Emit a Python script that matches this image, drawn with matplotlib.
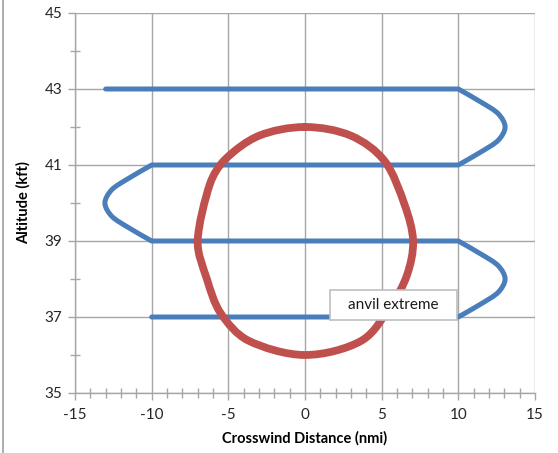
import matplotlib
matplotlib.use("Agg")
import numpy as np
import matplotlib.pyplot as plt
from matplotlib.patches import Rectangle, PathPatch
from matplotlib.path import Path
from matplotlib.lines import Line2D
from matplotlib.ticker import MultipleLocator

# Flight track (serpentine holding pattern), crosswind distance (nmi) vs altitude (kft)
track_x = [-13, 10, 11.5, 12.6, 13.05, 12.6, 11.5, 10,
           -10, -11.5, -12.6, -13.05, -12.6, -11.5, -10,
           10, 11.5, 12.6, 13.05, 12.6, 11.5, 10, -10]
track_y = [43, 43, 42.65, 42.35, 42.0, 41.65, 41.35, 41,
           41, 40.65, 40.35, 40.0, 39.65, 39.35, 39,
           39, 38.65, 38.35, 38.0, 37.65, 37.35, 37, 37]

# Anvil extreme outline (closed)
anvil_x = [0, 3.0, 5.2, 6.5, 7.05, 6.65, 5.6, 3.7, 0,
           -3.7, -5.5, -6.4, -7.0, -6.2, -5.2, -3.0, 0]
anvil_y = [42.0, 41.77, 41.1, 39.95, 39.0, 38.1, 37.3, 36.38, 36.0,
           36.38, 37.1, 38.0, 39.0, 40.5, 41.15, 41.77, 42.0]

x_ticks = [-15, -10, -5, 0, 5, 10, 15]
y_ticks = [35, 37, 39, 41, 43, 45]

plt.rcParams['font.family'] = ['Lato', 'DejaVu Sans']
plt.rcParams['axes.unicode_minus'] = False


def smooth_path(xs, ys, aspect, closed=False, corner_ratio=5.0):
    """Smoothed (Catmull-Rom style) line through the points as Bezier segments.

    Where a point joins a much longer chord to a short one it is kept as a
    corner, so long straight runs stay straight.
    """
    pts = np.column_stack([xs, ys]).astype(float)
    if closed and np.allclose(pts[0], pts[-1]):
        pts = pts[:-1]
    n = len(pts)
    scaled = pts * np.array([1.0, aspect])
    nseg = n if closed else n - 1
    chord = [scaled[(i + 1) % n] - scaled[i] for i in range(nseg)]
    seg_len = np.array([np.hypot(*c) for c in chord])

    def neighbours(i):
        if closed:
            return (i - 1) % n, i % nseg
        return (i - 1 if i > 0 else None), (i if i < nseg else None)

    def handle(i, seg):
        """Control-point offset at point i, pointing along segment seg."""
        before, after = neighbours(i)
        if before is None or after is None:
            return chord[seg] / 3.0 if seg == after else -chord[seg] / 3.0
        la, lb = seg_len[before], seg_len[after]
        sign = 1.0 if seg == after else -1.0
        if max(la, lb) / min(la, lb) > corner_ratio:
            return sign * chord[seg] / 3.0
        t = (chord[before] + chord[after]) / 6.0
        mag = np.hypot(*t)
        cap = seg_len[seg] / 3.0
        if mag > cap:
            t = t * (cap / mag)
        return sign * t

    verts = [scaled[0]]
    codes = [Path.MOVETO]
    for i in range(nseg):
        j = (i + 1) % n
        a, b = scaled[i], scaled[j]
        verts += [a + handle(i, i), b + handle(j, i), b]
        codes += [Path.CURVE4] * 3
    verts = np.array(verts) / np.array([1.0, aspect])
    return Path(verts, codes)


fig = plt.figure(figsize=(5.58, 4.53), dpi=100)
ax = fig.add_axes([75 / 558, 60 / 453, 460 / 558, 380 / 453])

grid_col = '#a6a6a6'
ax.set_xlim(-15, 15)
ax.set_ylim(35, 45)
ax.set_xticks(x_ticks)
ax.set_yticks(y_ticks)
ax.xaxis.set_minor_locator(MultipleLocator(1))
ax.yaxis.set_minor_locator(MultipleLocator(1))
ax.grid(True, which='major', color=grid_col, linewidth=1.0)
ax.set_axisbelow(True)

for side in ['top', 'right']:
    ax.spines[side].set_visible(False)
for side in ['left', 'bottom']:
    ax.spines[side].set_color(grid_col)
    ax.spines[side].set_linewidth(1.0)

ax.tick_params(which='major', direction='out', length=5, width=1.0,
               color=grid_col, labelsize=11, labelcolor='#262626', pad=4)
ax.tick_params(axis='x', which='major', pad=6)
ax.tick_params(which='minor', direction='inout', length=7, width=1.0,
               color=grid_col)

# vertical pixels per unit over horizontal pixels per unit
aspect = (380 / 10) / (460 / 30)

track = PathPatch(smooth_path(track_x, track_y, aspect), facecolor='none',
                  edgecolor='#4a7ebb', linewidth=3.6, capstyle='round',
                  joinstyle='round', zorder=3)
ax.add_patch(track)
anvil = PathPatch(smooth_path(anvil_x, anvil_y, aspect, closed=True),
                  facecolor='none', edgecolor='#c0504d', linewidth=5.6,
                  capstyle='round', joinstyle='round', zorder=4)
ax.add_patch(anvil)

# Label box
box = Rectangle((1.63, 36.92), 8.26, 0.79, facecolor='white',
                edgecolor='#bfbfbf', linewidth=1.2, zorder=6)
ax.add_patch(box)
ax.text(1.63 + 8.26 / 2, 36.92 + 0.79 / 2, 'anvil extreme', ha='center',
        va='center', fontsize=11, color='#1a1a1a', zorder=7)

ax.set_xlabel('Crosswind Distance (nmi)', fontsize=10.5, fontweight='bold',
              labelpad=6)
ax.set_ylabel('Altitude (kft)', fontsize=10.5, fontweight='bold', labelpad=10)

# Chart-area frame edge at the left
fig.add_artist(Line2D([2.5 / 558, 2.5 / 558], [0, 1], color='#a0a0a0',
                      linewidth=1.2, transform=fig.transFigure))

fig.savefig('out.png', dpi=100)
